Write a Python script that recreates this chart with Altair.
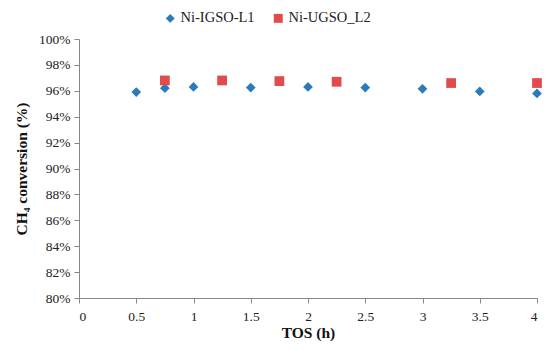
import altair as alt
import pandas as pd

tos_l1 = [0.5, 0.75, 1.0, 1.5, 2.0, 2.5, 3.0, 3.5, 4.0]
conv_l1 = [95.9, 96.2, 96.3, 96.25, 96.3, 96.25, 96.15, 95.95, 95.8]
tos_l2 = [0.75, 1.25, 1.75, 2.25, 3.25, 4.0]
conv_l2 = [96.8, 96.8, 96.75, 96.7, 96.6, 96.6]
series = ["Ni-IGSO-L1", "Ni-UGSO_L2"]
colors = ["#2b7bba", "#e04b4b"]
shapes = ["diamond", "square"]
x_ticks = [0, 0.5, 1, 1.5, 2, 2.5, 3, 3.5, 4]
y_ticks = [0.80, 0.82, 0.84, 0.86, 0.88, 0.90, 0.92, 0.94, 0.96, 0.98, 1.00]

rows = []
for t, c in zip(tos_l1, conv_l1):
    rows.append({"TOS": t, "conv": c / 100, "series": series[0]})
for t, c in zip(tos_l2, conv_l2):
    rows.append({"TOS": t, "conv": c / 100, "series": series[1]})
df = pd.DataFrame(rows)

font = "Liberation Serif"

chart = alt.Chart(df).mark_point(filled=True, opacity=1, size=95).encode(
    x=alt.X("TOS:Q", scale=alt.Scale(domain=[0, 4], nice=False, zero=False),
            axis=alt.Axis(values=x_ticks, title="TOS (h)", grid=False,
                          labelExpr="datum.value == 0 ? '0' : format(datum.value, '')",
                          titleFontWeight="bold", titleFontSize=15.5, labelFontSize=13.5,
                          titlePadding=3, labelPadding=6)),
    y=alt.Y("conv:Q", scale=alt.Scale(domain=[0.80, 1.00], nice=False, zero=False),
            axis=alt.Axis(values=y_ticks, format=".0%", title="CH₄ conversion (%)", grid=False,
                          titleFontWeight="bold", titleFontSize=15.5, labelFontSize=13.5,
                          titlePadding=9, labelPadding=4)),
    color=alt.Color("series:N", scale=alt.Scale(domain=series, range=colors),
                    legend=alt.Legend(title=None, orient="none", legendX=84, legendY=-28,
                                      direction="horizontal", labelFontSize=14.5,
                                      symbolSize=80, columnPadding=16, labelOffset=3,
                                      symbolStrokeWidth=0)),
    shape=alt.Shape("series:N", scale=alt.Scale(domain=series, range=shapes), legend=None),
).properties(
    width=458, height=259,
    autosize=alt.AutoSizeParams(type="none"),
    padding={"left": 71, "top": 31, "right": 5, "bottom": 44},
).configure_axis(
    domainColor="#888888", tickColor="#888888", tickSize=5,
    labelFont=font, titleFont=font, labelColor="#222222", titleColor="#111111",
).configure_legend(labelFont=font, labelColor="#222222").configure_view(stroke=None)

chart.save("out.html", embed_options={"renderer": "svg", "actions": False})
